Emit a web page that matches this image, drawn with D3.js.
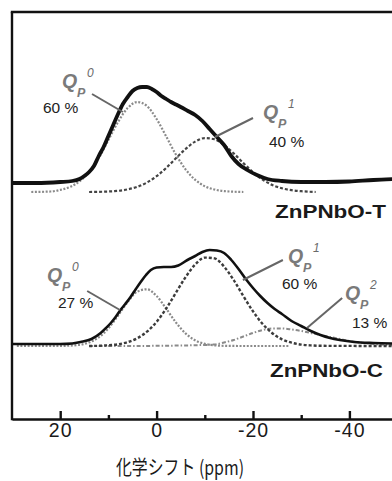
<!DOCTYPE html>
<html><head><meta charset="utf-8">
<script src="https://cdn.jsdelivr.net/npm/d3@7"></script>
<style>html,body{margin:0;padding:0;background:#fff;overflow:hidden;} svg{display:block;}</style>
</head><body>
<svg id="c" width="392" height="481" viewBox="0 0 392 481"></svg>
<script>
// ---- data: [ppm, intensity a.u.] ----
const specT = [[30,0],[25,0],[20,1],[17.5,2],[16,4],[15,7],[14,11],[13,17],[12,27],[11,36],[10,47],[9,58],[8,69],[7,79],[6,86],[5,92],[4,95],[3,96],[2,96],[1,94],[0,91],[-1,87],[-2,84],[-3,81],[-4,78.5],[-5,76],[-6.5,72],[-8,68],[-9.5,62],[-11,54],[-12.5,46],[-14,38],[-15.5,27],[-17,19],[-18.8,13],[-20.8,8],[-23,4],[-26,2],[-30,1],[-35,1],[-40,1.5],[-45,3],[-50,4]];
const compT_Q0 = [[26,0],[22,0.5],[20,2.1],[18,5],[16,10.6],[14,20],[12,34],[10,52],[8,70],[6,84],[4,90],[2,86],[0,73],[-2,55.5],[-4,37.5],[-6,22.7],[-8,12.2],[-10,5.8],[-12,2.5],[-14,0.9],[-16,0.3],[-18,0]];
const compT_Q1 = [[14,0],[10,0.5],[6,2.6],[4,5.2],[2,9.5],[0,15.8],[-2,24.1],[-4,33.7],[-6,43],[-8,50.4],[-10,53.9],[-12,52.7],[-14,47],[-16,38.6],[-18,28.9],[-20,19.8],[-22,12.4],[-24,7.1],[-26,3.7],[-28,1.8],[-30,0.8],[-33,0]];
const specC = [[30,0],[20,0],[17.5,0.5],[15.8,2],[13.5,5],[11.6,11],[10.5,16],[9.5,21],[8.5,27],[7.5,34],[6.5,40],[5.4,47],[4.3,55],[3.3,62],[2.2,69],[1.2,74],[0,76.5],[-1.5,77],[-3,77],[-4.5,78.5],[-6.4,84],[-8,88],[-9.5,92],[-11,94],[-12.5,93.5],[-14,91],[-15.5,84],[-17,75],[-18.5,65],[-20,56],[-21.5,48],[-23,41],[-24.5,35],[-26,30],[-28,23],[-30,18],[-32,13],[-34,9],[-36,6],[-38,4],[-41,2],[-45,1],[-50,0.5]];
const compC_Q0 = [[29,0],[20,0.1],[16,1.2],[14,3.6],[12,8.7],[10,17.6],[8,30.4],[6,44],[4,54.4],[2,56.7],[0,50],[-2,37.3],[-4,23.6],[-6,12.6],[-8,5.7],[-10,2.2],[-12,0.7],[-14,0.2],[-18,0],[-27.5,0]];
const compC_Q1 = [[14,0],[10,0.7],[6,3.9],[4,7.8],[2,14.3],[0,24.2],[-2,37.5],[-4,53.2],[-6,68.8],[-8,81.5],[-10,88.4],[-12,87.6],[-14,79.4],[-16,65.9],[-18,49.9],[-20,34.7],[-22,22],[-24,12.8],[-26,6.7],[-28,3.3],[-30,1.4],[-32,0.6],[-34,0.2],[-50,0]];
const compC_Q2 = [[14,0],[4,0],[0,0.2],[-4,0.4],[-8,0.8],[-12,1.5],[-14,3.5],[-16,6],[-18,9.5],[-20,13],[-22,16],[-24,17.5],[-26,17.5],[-28,16.5],[-30,15],[-32,13],[-34,11],[-36,9],[-38,7],[-40,5],[-42,3.5],[-44,2.5],[-46,1.5],[-50,0.8]];
const majorTicks = [20, 0, -20, -40];
const minorTicks = [10, -10, -30];
const sampleNames = ["ZnPNbO-T", "ZnPNbO-C"];
const fractionsT = ["60 %", "40 %"];
const fractionsC = ["27 %", "60 %", "13 %"];
const xTitle = "化学シフト (ppm)";

// ---- layout ----
const svg = d3.select("#c");
const x = d3.scaleLinear().domain([30, -50]).range([12, 397.6]);
const y = d3.scaleLinear().domain([0, 407]).range([419, 12]);
const OFF_T = 236, OFF_TC = 227, OFF_C = 75, OFF_CC = 73;
const line = off => d3.line().x(d => x(d[0])).y(d => y(d[1] + off)).curve(d3.curveMonotoneX);
const ff = "'Liberation Sans', Arial, sans-serif";

// frame (top, left, right)
const X0 = x(30), X1 = x(-50), Y0 = y(0), Y1 = y(407);
svg.append("line").attr("x1", X0 - 1.2).attr("x2", X1).attr("y1", Y1).attr("y2", Y1).attr("stroke","#111").attr("stroke-width",2.4);
svg.append("line").attr("x1", X0).attr("x2", X0).attr("y1", Y1).attr("y2", Y0 + 1.2).attr("stroke","#111").attr("stroke-width",2.4);
svg.append("line").attr("x1", X1).attr("x2", X1).attr("y1", Y1).attr("y2", Y0).attr("stroke","#111").attr("stroke-width",2.4);

// bottom axis
const ax = svg.append("g").attr("transform", `translate(0,${Y0})`)
  .call(d3.axisBottom(x).tickValues(majorTicks).tickSize(-8).tickSizeOuter(0).tickPadding(4.5).tickFormat(d => String(d)));
ax.select(".domain").attr("stroke","#111").attr("stroke-width",2.4);
ax.selectAll(".tick line").attr("stroke","#111").attr("stroke-width",2.4);
ax.selectAll(".tick text").attr("fill","#1a1a1a")
  .style("font-family", ff).style("font-size","19.5px").style("letter-spacing","1px");
const ax2 = svg.append("g").attr("transform", `translate(0,${Y0})`)
  .call(d3.axisBottom(x).tickValues(minorTicks).tickSize(-4).tickSizeOuter(0).tickFormat(""));
ax2.select(".domain").remove();
ax2.selectAll(".tick line").attr("stroke","#111").attr("stroke-width",2.4);

svg.append("text").attr("x", 180).attr("y", 475).attr("text-anchor","middle")
  .attr("textLength", 128).attr("lengthAdjust","spacingAndGlyphs")
  .style("font-family","'Noto Sans CJK JP', sans-serif").style("font-size","20px").attr("fill","#1a1a1a").text(xTitle);

// components
const comp = (data, off, color, dash, w) => svg.append("path").datum(data).attr("d", line(off))
  .attr("fill","none").attr("stroke", color).attr("stroke-width", w).attr("stroke-dasharray", dash);
comp(compT_Q0, OFF_TC, "#8a8a8a", "2,1.6", 2.2);
comp(compT_Q1, OFF_TC, "#444", "3,2", 2.2);
comp(compC_Q0, OFF_CC, "#8a8a8a", "2,1.6", 2.2);
comp(compC_Q2, OFF_CC, "#8a8a8a", "4,2,1.5,2", 2);
comp(compC_Q1, OFF_CC, "#3c3c3c", "3,2", 2.4);

// spectra
svg.append("path").datum(specT).attr("d", line(OFF_T)).attr("fill","none").attr("stroke","#111").attr("stroke-width",3.8).attr("stroke-linejoin","round");
svg.append("path").datum(specC).attr("d", line(OFF_C)).attr("fill","none").attr("stroke","#111").attr("stroke-width",2.6);

// leader lines [ppm1, v1, ppm2, v2]
const leaders = [[13.4,325,7.0,307],[-20.0,301,-12.1,282],[14.4,128,7.6,109],[-26.2,159,-17.9,139],[-38.5,121,-31.2,91]];
svg.selectAll(".leader").data(leaders).join("line").attr("class","leader")
  .attr("x1", d => x(d[0])).attr("y1", d => y(d[1])).attr("x2", d => x(d[2])).attr("y2", d => y(d[3]))
  .attr("stroke","#666").attr("stroke-width",2);

// Q labels
const qLabels = [
  {qx:62, qy:88, sup:"0", pct:fractionsT[0], px:43, py:113},
  {qx:263, qy:119, sup:"1", pct:fractionsT[1], px:269, py:147},
  {qx:47, qy:282, sup:"0", pct:fractionsC[0], px:58, py:308},
  {qx:288, qy:263, sup:"1", pct:fractionsC[1], px:282, py:289},
  {qx:345, qy:300, sup:"2", pct:fractionsC[2], px:352, py:328}
];
qLabels.forEach(l => {
  const g = svg.append("g");
  g.append("text").attr("x", l.qx).attr("y", l.qy).text("Q")
    .style("font-family", ff).style("font-size","19.5px").style("font-weight","bold").style("font-style","italic").attr("fill","#7a7a7a");
  g.append("text").attr("x", l.qx + 15).attr("y", l.qy + 9).text("P")
    .style("font-family", ff).style("font-size","12.5px").style("font-weight","bold").style("font-style","italic").attr("fill","#7a7a7a");
  g.append("text").attr("x", l.qx + 25).attr("y", l.qy - 11).text(l.sup)
    .style("font-family", ff).style("font-size","12px").style("font-style","italic").attr("fill","#6a6a6a");
  g.append("text").attr("x", l.px).attr("y", l.py).text(l.pct)
    .style("font-family", ff).style("font-size","15.5px").attr("fill","#222");
});

// sample names
const nameY = [218, 377], nameX = [275, 270], nameW = [111, 113];
sampleNames.forEach((n, i) => {
  svg.append("text").attr("x", nameX[i]).attr("y", nameY[i]).text(n)
    .attr("textLength", nameW[i]).attr("lengthAdjust","spacingAndGlyphs")
    .style("font-family", ff).style("font-size","19px").style("font-weight","bold").attr("fill","#1a1a1a");
});
</script>
</body></html>
